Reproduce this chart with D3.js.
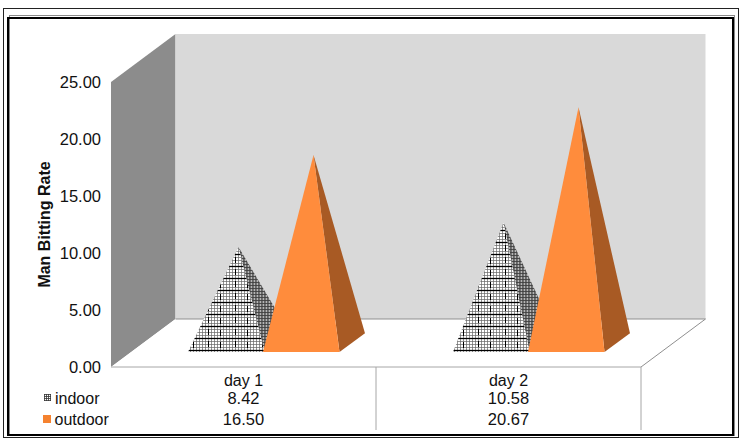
<!DOCTYPE html>
<html><head><meta charset="utf-8">
<script src="https://cdn.jsdelivr.net/npm/d3@7"></script>
<style>html,body{margin:0;padding:0;background:#fff}svg{display:block}text{font-family:"Liberation Sans",Arial,sans-serif;fill:#111}</style>
</head><body><svg id="c" width="742" height="442"></svg>
<script>
const categories = ["day 1","day 2"];
const seriesNames = ["indoor","outdoor"];
const indoor = [8.42,10.58];
const outdoor = [16.50,20.67];
const indoorLabels = ["8.42","10.58"];
const outdoorLabels = ["16.50","20.67"];
const yTicks = [0,5,10,15,20,25];

const svg = d3.select("#c");
const defs = svg.append("defs");
const p1 = defs.append("pattern").attr("id","hatch").attr("patternUnits","userSpaceOnUse").attr("width",27).attr("height",12).attr("y",352);
p1.append("rect").attr("width",27).attr("height",12).attr("fill","#fff");
p1.append("path").attr("d","M0 1.5H27M0 4.5H27M0 7.5H27M1.5 0V12M4.5 0V12M7.5 0V12M10.5 0V12M13.5 0V12M16.5 0V12M19.5 0V12M22.5 0V12M25.5 0V12").attr("stroke","#666").attr("stroke-width",0.7).attr("fill","none");
p1.append("path").attr("d","M0 10.5H27").attr("stroke","#000").attr("stroke-width",1.3);
p1.append("path").attr("d","M4.5 2V8M19.5 1V7").attr("stroke","#000").attr("stroke-width",1);
const p2 = defs.append("pattern").attr("id","hatchSide").attr("patternUnits","userSpaceOnUse").attr("width",3).attr("height",3);
p2.append("rect").attr("width",3).attr("height",3).attr("fill","#b5b5b5");
p2.append("path").attr("d","M0 .5H3M0 2H1.5M1 0V3").attr("stroke","#333").attr("stroke-width",0.8);
const p3 = defs.append("pattern").attr("id","hatchLegend").attr("patternUnits","userSpaceOnUse").attr("width",2).attr("height",2);
p3.append("rect").attr("width",2).attr("height",2).attr("fill","#fff");
p3.append("path").attr("d","M0 .5H2M.5 0V2").attr("stroke","#333").attr("stroke-width",0.8);

// frames
svg.append("rect").attr("x",3.5).attr("y",8.5).attr("width",735).attr("height",429).attr("fill","none").attr("stroke","#222").attr("stroke-width",1);
svg.append("rect").attr("x",9.5).attr("y",15.5).attr("width",725).attr("height",420).attr("fill","none").attr("stroke","#8a8a8a").attr("stroke-width",1);
svg.append("rect").attr("x",8).attr("y",18).attr("width",725).attr("height",417).attr("fill","#fff").attr("stroke","#000").attr("stroke-width",2);
svg.append("path").attr("d","M9.5 19V434").attr("stroke","#8a8a8a").attr("stroke-width",1);

// scales
const plotL=111, plotR=641, front=367, depthX=64.5, depthY=48;
const x = d3.scaleBand().domain(categories).range([plotL,plotR]);
const y = d3.scaleLinear().domain([0,25]).range([front,82]);
const off=(f)=>[depthX*f,-depthY*f];

// walls
const tp = y(25);
svg.append("path").attr("d",d3.line()([[plotL,front],[plotL,tp],[plotL+depthX,tp-depthY],[plotL+depthX,front-depthY]])+"Z").attr("fill","#8c8c8c");
svg.append("rect").attr("x",plotL+depthX).attr("y",tp-depthY).attr("width",plotR-plotL).attr("height",front-tp).attr("fill","#d9d9d9");
svg.append("path").attr("d",d3.line()([[plotL,front],[plotL+depthX,front-depthY],[plotR+depthX,front-depthY],[plotR,front]])+"Z").attr("fill","#fff");
svg.append("path").attr("d",d3.line()([[plotL+depthX,front-depthY],[plotR+depthX,front-depthY],[plotR,front]])).attr("fill","none").attr("stroke","#8f8f8f");

// pyramids
const baseW=76.5, f0=0.31, f1=0.705, fm=0.5;
const py=(cat,name,v,fill,side)=>{
  const bx = x(cat)+ (name==="indoor"?77:152);
  const ox0=off(f0), ox1=off(f1), mid=off(fm);
  const yb=front+ox0[1], yr=front+ox1[1];
  const ax = bx+baseW/2+(mid[0]-ox0[0]), ay = y(v)+mid[1];
  const g=svg.append("g");
  const fr=bx+baseW, backR=[fr+(ox1[0]-ox0[0]),yr];
  g.append("path").attr("d",d3.line()([[fr,yb],backR,[ax,ay]])+"Z").attr("fill",side);
  g.append("path").attr("d",d3.line()([[bx,yb],[fr,yb],[ax,ay]])+"Z").attr("fill",fill);
};
categories.forEach((c,i)=>{
  py(c,"indoor",indoor[i],"url(#hatch)","url(#hatchSide)");
  py(c,"outdoor",outdoor[i],"#ff8c3c","#a85a24");
});

// axis labels
const yAxis = svg.append("g");
yTicks.forEach(t=>{
  yAxis.append("text").attr("x",101).attr("y",y(t)+6).attr("text-anchor","end").attr("font-size",16.5).text(t.toFixed(2));
});
svg.append("text").attr("transform","translate(50,"+y(12.5)+") rotate(-90)").attr("text-anchor","middle").attr("font-size",16).attr("font-weight","bold").text("Man Bitting Rate");

// data table
svg.append("path").attr("d",`M${plotL} ${front}H${plotR}M${plotR} ${front}V430M${x(categories[1])} ${front}V430`).attr("fill","none").attr("stroke","#a6a6a6");
const rows=[categories,indoorLabels,outdoorLabels], rowY=[385.5,403.5,425];
rows.forEach((r,j)=>r.forEach((t,i)=>{
  svg.append("text").attr("x",x(categories[i])+x.bandwidth()/2).attr("y",rowY[j]).attr("text-anchor","middle").attr("font-size",j?16.5:16).text(t);
}));
svg.append("rect").attr("x",44).attr("y",394).attr("width",7).attr("height",7).attr("fill","url(#hatchLegend)");
svg.append("rect").attr("x",43).attr("y",415).attr("width",8).attr("height",8).attr("fill","#f5822f");
svg.append("text").attr("x",55).attr("y",404).attr("font-size",16).text("indoor");
svg.append("text").attr("x",54.5).attr("y",424.5).attr("font-size",16).text("outdoor");
</script></body></html>
